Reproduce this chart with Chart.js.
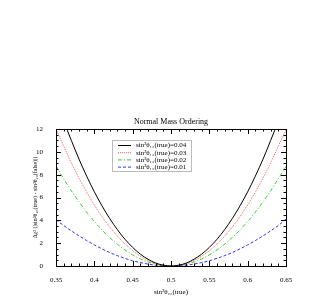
<!DOCTYPE html>
<html>
<head>
<meta charset="utf-8">
<script src="https://cdn.jsdelivr.net/npm/chart.js@4/dist/chart.umd.min.js"></script>
<style>
  html, body { margin: 0; padding: 0; background: #fff; }
  #wrap { width: 327px; height: 300px; position: relative; }
</style>
</head>
<body>
<div id="wrap"><canvas id="c"></canvas></div>
<script>
// true sin^2 theta23 values (x axis)
const sinTrue = [0.35, 0.36, 0.37, 0.38, 0.39, 0.40, 0.41, 0.42, 0.43, 0.44, 0.45,
  0.46, 0.47, 0.48, 0.49, 0.50, 0.51, 0.52, 0.53, 0.54, 0.55, 0.56, 0.57, 0.58,
  0.59, 0.60, 0.61, 0.62, 0.63, 0.64, 0.65];

// delta chi^2 for each sin^2 theta13(true)
const chi04 = [14.6, 12.7, 11.0, 9.36, 7.87, 6.5, 5.27, 4.16, 3.19, 2.34, 1.63,
  1.04, 0.59, 0.26, 0.07, 0, 0.07, 0.26, 0.59, 1.04, 1.63, 2.34, 3.19, 4.16,
  5.27, 6.5, 7.87, 9.36, 11.0, 12.7, 14.6];
const chi03 = [12.0, 10.5, 9.04, 7.70, 6.47, 5.35, 4.33, 3.42, 2.62, 1.93, 1.34,
  0.86, 0.48, 0.21, 0.05, 0, 0.05, 0.21, 0.48, 0.86, 1.34, 1.93, 2.62, 3.42,
  4.33, 5.35, 6.47, 7.70, 9.04, 10.5, 11.95];
const chi02 = [8.78, 7.64, 6.59, 5.62, 4.72, 3.90, 3.16, 2.50, 1.91, 1.40, 0.98,
  0.62, 0.35, 0.16, 0.04, 0, 0.04, 0.16, 0.35, 0.62, 0.98, 1.40, 1.91, 2.50,
  3.16, 3.90, 4.72, 5.62, 6.59, 7.64, 8.72];
const chi01 = [4.05, 3.55, 3.08, 2.64, 2.23, 1.85, 1.50, 1.18, 0.91, 0.67, 0.46,
  0.30, 0.17, 0.07, 0.02, 0, 0.02, 0.07, 0.17, 0.30, 0.46, 0.67, 0.91, 1.18,
  1.50, 1.85, 2.23, 2.64, 3.08, 3.55, 4.1];

const seriesNames = ['sin²θ₁₃(true)=0.04', 'sin²θ₁₃(true)=0.03', 'sin²θ₁₃(true)=0.02', 'sin²θ₁₃(true)=0.01'];
const xTicks = [0.35, 0.4, 0.45, 0.5, 0.55, 0.6, 0.65];
const yTicks = [0, 2, 4, 6, 8, 10, 12];

const serif = '"Liberation Serif", "DejaVu Serif", serif';

function pts(vals) {
  return sinTrue.map((x, i) => ({ x: x, y: vals[i] }));
}

const styles = [
  { color: '#000000', dash: [] },
  { color: '#ff5a5a', dash: [1, 1] },
  { color: '#33cc33', dash: [4, 2, 1, 2] },
  { color: '#3030ff', dash: [3, 2] }
];
const allSeries = [chi04, chi03, chi02, chi01];

// frame, inward ticks on all four sides, title and inset legend
const decor = {
  id: 'decor',
  afterDraw(chart) {
    const { ctx, chartArea: a, scales } = chart;
    const xs = scales.x, ys = scales.y;
    ctx.save();
    ctx.strokeStyle = '#000';
    ctx.lineWidth = 1;
    ctx.setLineDash([]);
    ctx.strokeRect(a.left + 0.5, a.top + 0.5, a.right - a.left, a.bottom - a.top);

    ctx.beginPath();
    for (let i = 0; i <= 30; i++) {
      const v = 0.35 + i * 0.01;
      const px = Math.round(xs.getPixelForValue(v)) + 0.5;
      const len = (i % 5 === 0) ? 5 : 2.5;
      ctx.moveTo(px, a.bottom); ctx.lineTo(px, a.bottom - len);
      ctx.moveTo(px, a.top); ctx.lineTo(px, a.top + len);
    }
    for (let i = 0; i <= 24; i++) {
      const v = i * 0.5;
      const py = Math.round(ys.getPixelForValue(v)) + 0.5;
      const len = (i % 4 === 0) ? 5 : 2.5;
      ctx.moveTo(a.left, py); ctx.lineTo(a.left + len, py);
      ctx.moveTo(a.right, py); ctx.lineTo(a.right - len, py);
    }
    ctx.stroke();

    // title
    ctx.fillStyle = '#000';
    ctx.font = '8px ' + serif;
    ctx.textAlign = 'center';
    ctx.textBaseline = 'middle';
    ctx.fillText('Normal Mass Ordering', (a.left + a.right) / 2, 122);

    // legend
    const lx = 112.5, ly = 140.5, lw = 79, lh = 31;
    ctx.strokeStyle = '#bbb';
    ctx.strokeRect(lx, ly, lw, lh);
    ctx.font = '7px ' + serif;
    ctx.textAlign = 'left';
    for (let i = 0; i < 4; i++) {
      const y = 145.5 + i * 7.2;
      ctx.strokeStyle = styles[i].color;
      ctx.setLineDash(styles[i].dash);
      ctx.beginPath();
      ctx.moveTo(118, y); ctx.lineTo(131, y);
      ctx.stroke();
      ctx.setLineDash([]);
      ctx.fillStyle = '#000';
      ctx.fillText(seriesNames[i], 136, y);
    }
    ctx.restore();
  }
};

new Chart(document.getElementById('c'), {
  type: 'line',
  data: {
    datasets: allSeries.map((vals, i) => ({
      label: seriesNames[i],
      data: pts(vals),
      borderColor: styles[i].color,
      borderDash: styles[i].dash,
      borderWidth: 1,
      pointRadius: 0,
      tension: 0.4,
      cubicInterpolationMode: 'monotone',
      fill: false
    }))
  },
  options: {
    responsive: true,
    maintainAspectRatio: false,
    animation: false,
    layout: { padding: { top: 129, right: 41, left: 30, bottom: 0 } },
    plugins: { legend: { display: false }, tooltip: { enabled: false } },
    scales: {
      x: {
        type: 'linear',
        min: 0.35, max: 0.65,
        afterBuildTicks(s) { s.ticks = xTicks.map(v => ({ value: v })); },
        afterFit(s) { s.height = 34; },
        grid: { display: false },
        border: { display: false },
        ticks: {
          font: { family: serif, size: 7 }, color: '#000', padding: 2,
          maxRotation: 0,
          callback: v => String(+v.toFixed(2))
        },
        title: {
          display: true, text: 'sin²θ₂₃(true)',
          font: { family: serif, size: 7 }, color: '#000', padding: { top: 1 }
        }
      },
      y: {
        min: 0, max: 12,
        afterBuildTicks(s) { s.ticks = yTicks.map(v => ({ value: v })); },
        afterFit(s) { s.width = 26; },
        grid: { display: false },
        border: { display: false },
        ticks: { font: { family: serif, size: 7 }, color: '#000', padding: 5 },
        title: {
          display: true, text: 'Δχ² (|sin²θ₂₃(true) - sin²θ₂₃(false)|)',
          font: { family: serif, size: 6 }, color: '#000', padding: { top: 2, bottom: 0 }
        }
      }
    }
  },
  plugins: [decor]
});
</script>
</body>
</html>
